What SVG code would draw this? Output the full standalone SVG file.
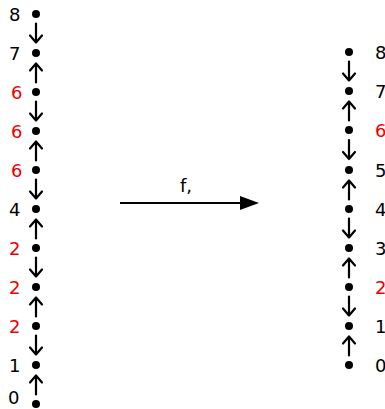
<svg xmlns="http://www.w3.org/2000/svg" width="385" height="409" viewBox="0 0 385 409">
<style>
.dot{fill:#000}
.ln{stroke:#000;stroke-width:2.2;fill:none;stroke-linecap:round;stroke-linejoin:round}
.lb{font-family:"DejaVu Sans",sans-serif;font-size:18px;fill:#000}
.r{fill:#e00}
</style>
<defs>
<path id="dn" class="ln" d="M0,-10 V9 M-6,2 L0,9 L6,2"/>
<path id="up" class="ln" d="M0,10 V-9 M-6,-2 L0,-9 L6,-2"/>
</defs>
<rect width="385" height="409" fill="#fff"/>
<g id="left">
<g id="L8"><circle class="dot" cx="36" cy="14" r="4"/><text class="lb" x="9" y="21">8</text></g>
<g id="L7"><circle class="dot" cx="36" cy="53" r="4"/><text class="lb" x="9" y="60">7</text></g>
<g id="L6a"><circle class="dot" cx="36" cy="92" r="4"/><text class="lb r" x="11" y="99">6</text></g>
<g id="L6b"><circle class="dot" cx="36" cy="131" r="4"/><text class="lb r" x="11" y="138">6</text></g>
<g id="L6c"><circle class="dot" cx="36" cy="170" r="4"/><text class="lb r" x="11" y="177">6</text></g>
<g id="L4"><circle class="dot" cx="36" cy="209" r="4"/><text class="lb" x="9" y="216">4</text></g>
<g id="L2a"><circle class="dot" cx="36" cy="248" r="4"/><text class="lb r" x="9" y="255">2</text></g>
<g id="L2b"><circle class="dot" cx="36" cy="287" r="4"/><text class="lb r" x="9" y="294">2</text></g>
<g id="L2c"><circle class="dot" cx="36" cy="326" r="4"/><text class="lb r" x="9" y="333">2</text></g>
<g id="L1"><circle class="dot" cx="36" cy="365" r="4"/><text class="lb" x="9" y="372">1</text></g>
<g id="L0"><circle class="dot" cx="36" cy="404" r="4"/><text class="lb" x="8" y="404">0</text></g>
</g>
<g id="right">
<g id="R8"><circle class="dot" cx="349" cy="52" r="4"/><text class="lb" x="375" y="59">8</text></g>
<g id="R7"><circle class="dot" cx="349" cy="91" r="4"/><text class="lb" x="375" y="98">7</text></g>
<g id="R6"><circle class="dot" cx="349" cy="130" r="4"/><text class="lb r" x="375" y="137">6</text></g>
<g id="R5"><circle class="dot" cx="349" cy="170" r="4"/><text class="lb" x="375" y="177">5</text></g>
<g id="R4"><circle class="dot" cx="349" cy="209" r="4"/><text class="lb" x="375" y="216">4</text></g>
<g id="R3"><circle class="dot" cx="349" cy="248" r="4"/><text class="lb" x="375" y="255">3</text></g>
<g id="R2"><circle class="dot" cx="349" cy="287" r="4"/><text class="lb r" x="375" y="294">2</text></g>
<g id="R1"><circle class="dot" cx="349" cy="326" r="4"/><text class="lb" x="375" y="333">1</text></g>
<g id="R0"><circle class="dot" cx="349" cy="365" r="4"/><text class="lb" x="375" y="372">0</text></g>
</g>
<g id="connectors">
<use href="#dn" x="36" y="33.5"/>
<use href="#up" x="36" y="72.5"/>
<use href="#dn" x="36" y="111.5"/>
<use href="#up" x="36" y="150.5"/>
<use href="#dn" x="36" y="189.5"/>
<use href="#up" x="36" y="228.5"/>
<use href="#dn" x="36" y="267.5"/>
<use href="#up" x="36" y="306.5"/>
<use href="#dn" x="36" y="345.5"/>
<use href="#up" x="36" y="384.5"/>
<use href="#dn" x="349" y="71.5"/>
<use href="#up" x="349" y="110.5"/>
<use href="#dn" x="349" y="150"/>
<use href="#up" x="349" y="189.5"/>
<use href="#dn" x="349" y="228.5"/>
<use href="#up" x="349" y="267.5"/>
<use href="#dn" x="349" y="306.5"/>
<use href="#up" x="349" y="345.5"/>
<g id="f">
<line x1="120" y1="203" x2="242" y2="203" stroke="#000" stroke-width="2"/>
<polygon points="240,196 259,203 240,210" fill="#000"/>
<text class="lb" x="186" y="192" text-anchor="middle">f,</text>
</g>
</g>
</svg>
